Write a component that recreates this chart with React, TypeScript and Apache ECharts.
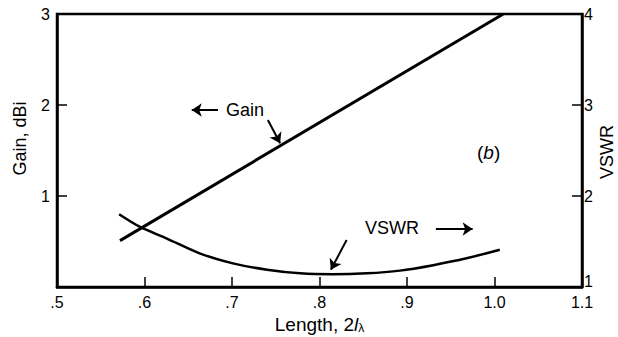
import React, { useEffect, useRef } from "react";
import * as echarts from "echarts";

const xTickLabels = [".5", ".6", ".7", ".8", ".9", "1.0", "1.1"];
const gainTickLabels = ["", "1", "2", "3"];
const vswrTickLabels = ["1", "2", "3", "4"];

const gainLength = [0.572, 1.01];
const gainValues = [0.51, 3.0];

const vswrLength = [0.571, 0.595, 0.625, 0.663, 0.701, 0.74, 0.778, 0.815, 0.854, 0.892, 0.93, 0.968, 1.006];
const vswrValues = [1.8, 1.66, 1.535, 1.37, 1.26, 1.19, 1.15, 1.14, 1.15, 1.18, 1.24, 1.315, 1.41];

const FONT = "'Liberation Sans', Arial, Helvetica, sans-serif";

export default function App() {
  const ref = useRef<HTMLDivElement>(null);
  useEffect(() => {
    if (!ref.current) return;
    const chart = echarts.init(ref.current, null, { renderer: "svg" });
    const axisLine = { show: true, lineStyle: { color: "#000", width: 2.5 } };
    const axisTick = { show: true, inside: true, length: 10, lineStyle: { color: "#000", width: 1.5 } };
    const arrowLine = {
      silent: true,
      animation: false,
      symbol: ["none", "arrow"],
      symbolSize: 10,
      lineStyle: { color: "#000", width: 2, type: "solid" as const },
      label: { show: false },
      emphasis: { disabled: true },
    };
    chart.setOption({
      animation: false,
      backgroundColor: "#fff",
      textStyle: { fontFamily: FONT, color: "#000" },
      grid: {
        left: 57,
        right: 36,
        top: 14,
        bottom: 50,
        show: true,
        borderColor: "#000",
        borderWidth: 2.5,
        containLabel: false,
        outerBoundsMode: "none",
      },
      xAxis: {
        type: "value",
        min: 0.5,
        max: 1.1,
        interval: 0.1,
        axisLine,
        axisTick,
        splitLine: { show: false },
        axisLabel: {
          color: "#000",
          fontSize: 16,
          fontFamily: FONT,
          margin: 7,
          formatter: (v: number) => xTickLabels[Math.round((v - 0.5) / 0.1)] ?? "",
        },
        name: "Length, 2{i|l}{s|λ}",
        nameLocation: "middle",
        nameGap: 24,
        nameTextStyle: {
          color: "#000",
          fontSize: 19,
          fontFamily: FONT,
          rich: {
            i: { fontSize: 19, fontStyle: "italic", fontFamily: FONT, color: "#000" },
            s: { fontSize: 12, fontFamily: FONT, color: "#000", padding: [8, 0, 0, 0] },
          },
        },
      },
      yAxis: [
        {
          type: "value",
          position: "left",
          min: 0,
          max: 3,
          interval: 1,
          axisLine,
          axisTick,
          splitLine: { show: false },
          axisLabel: {
            color: "#000",
            fontSize: 16,
            fontFamily: FONT,
            margin: 7,
            formatter: (v: number) => gainTickLabels[Math.round(v)] ?? "",
          },
          name: "Gain, dBi",
          nameLocation: "middle",
          nameRotate: 90,
          nameGap: 28,
          nameTextStyle: { color: "#000", fontSize: 18, fontFamily: FONT, padding: [0, 0, 0, 24] },
        },
        {
          type: "value",
          position: "right",
          min: 1,
          max: 4,
          interval: 1,
          axisLine,
          axisTick,
          splitLine: { show: false },
          axisLabel: {
            color: "#000",
            fontSize: 16,
            fontFamily: FONT,
            margin: 2,
            formatter: (v: number) => {
              const t = vswrTickLabels[Math.round(v) - 1] ?? "";
              return Math.round(v) === 1 ? `{low|${t}}` : t;
            },
            rich: {
              low: { fontSize: 16, fontFamily: FONT, color: "#000", padding: [0, 0, 12, 0] },
            },
          },
        },
      ],
      series: [
        {
          name: "Gain",
          type: "line",
          yAxisIndex: 0,
          data: gainLength.map((x, i) => [x, gainValues[i]]),
          showSymbol: false,
          symbol: "none",
          lineStyle: { color: "#000", width: 3 },
          emphasis: { disabled: true },
          markLine: {
            ...arrowLine,
            data: [
              [{ coord: [0.684, 1.945] }, { coord: [0.654, 1.945] }],
              [{ coord: [0.741, 1.835] }, { coord: [0.755, 1.58] }],
            ],
          },
        },
        {
          name: "VSWR",
          type: "line",
          yAxisIndex: 1,
          smooth: 0.3,
          data: vswrLength.map((x, i) => [x, vswrValues[i]]),
          showSymbol: false,
          symbol: "none",
          lineStyle: { color: "#000", width: 2.5 },
          emphasis: { disabled: true },
          markLine: {
            ...arrowLine,
            data: [
              [{ coord: [0.933, 1.637] }, { coord: [0.975, 1.637] }],
              [{ coord: [0.831, 1.516] }, { coord: [0.813, 1.19] }],
            ],
          },
        },
      ],
      graphic: [
        {
          type: "text",
          x: 607,
          y: 152,
          rotation: Math.PI / 2,
          style: {
            text: "VSWR",
            font: `18px ${FONT}`,
            fill: "#000",
            align: "center",
            verticalAlign: "middle",
          },
        },
        {
          type: "text",
          left: 226,
          top: 101,
          style: { text: "Gain", font: `18px ${FONT}`, fill: "#000" },
        },
        {
          type: "text",
          left: 365,
          top: 219,
          style: { text: "VSWR", font: `18px ${FONT}`, fill: "#000" },
        },
        {
          type: "text",
          left: 477,
          top: 143,
          style: {
            text: "{n|(}{i|b}{n|)}",
            fill: "#000",
            rich: {
              n: { fontSize: 19, fontFamily: FONT, fill: "#000" },
              i: { fontSize: 19, fontFamily: FONT, fontStyle: "italic", fill: "#000" },
            },
          },
        },
      ],
    });
    return () => chart.dispose();
  }, []);
  return <div ref={ref} style={{ position: "fixed", left: 0, top: 0, width: 618, height: 337 }} />;
}
